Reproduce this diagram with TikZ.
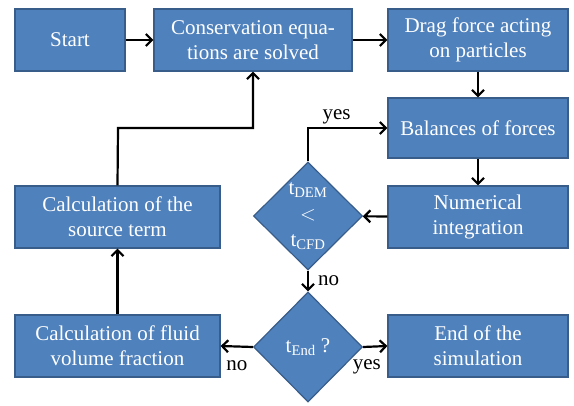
\documentclass[tikz,border=0pt]{standalone}
\usepackage{fontspec}
\setmainfont{Liberation Serif}
\usetikzlibrary{shapes.geometric,arrows.meta}
\definecolor{boxfill}{RGB}{79,129,189}
\definecolor{boxline}{RGB}{56,93,138}
\begin{document}
\begin{tikzpicture}[
    x=1pt, y=-1pt,
    every node/.style={font=\fontsize{21}{25}\selectfont},
    box/.style={rectangle, draw=boxline, fill=boxfill, line width=1.2pt,
        text=white, align=center, inner sep=0pt, minimum height=62pt},
    test/.style={diamond, draw=boxline, fill=boxfill, line width=1.2pt,
        text=white, align=center, inner sep=0pt, minimum width=109pt},
    flow/.style={-{Straight Barb[length=6pt,width=12pt]}, line width=2.2pt},
    lbl/.style={text=black, inner sep=3pt}
]
\useasboundingbox (0,0) rectangle (574,406);

% Top row
\node[box, minimum width=110pt] (start) at (70,40) {Start};
\node[box, minimum width=198pt] (cons) at (253,40) {Conservation equa-\\tions are solved};
\node[box, minimum width=180pt] (drag) at (478,40) {Drag force acting\\on particles};

% Right column
\node[box, minimum width=180pt, minimum height=60pt] (bal) at (478,128) {Balances of forces};
\node[box, minimum width=180pt] (num) at (478,217) {Numerical\\integration};
\node[box, minimum width=180pt] (end) at (478,346) {End of the\\simulation};

% Tests
\node[test, minimum height=108pt] (dem) at (308,216)
    {t\textsubscript{DEM}\\[1pt]$<$\\[1pt]t\textsubscript{CFD}};
\node[test, minimum height=110pt] (tend) at (308,347) {t\textsubscript{End} ?};

% Left column
\node[box, minimum width=205pt] (src) at (117.5,217) {Calculation of the\\source term};
\node[box, minimum width=205pt] (fluid) at (117.5,346) {Calculation of fluid\\volume fraction};

\coordinate (bend) at (118,128);

\draw[flow] (start) -- (cons);
\draw[flow] (cons) -- (drag);
\draw[flow] (drag) -- (bal);
\draw[flow] (bal) -- (num);
\draw[flow] (num) -- (dem);
\draw[flow] (dem.north) |- node[lbl, above, pos=0.68] (yes1) {yes} (bal.west);
\draw[flow] (dem.south) -- node[lbl, right, xshift=6pt] (no1) {no} (tend.north);
\draw[flow] (tend.east) -- node[lbl, below, pos=0.15, yshift=-9pt] (yes2) {yes} (end.west);
\draw[flow] (tend.west) -- node[lbl, below, pos=0.5, yshift=-10pt] (no2) {no} (fluid.east);
\draw[flow] (fluid) -- (src);
\draw[flow] (src.north) -- (bend) -| (cons.south);
\end{tikzpicture}
\end{document}
